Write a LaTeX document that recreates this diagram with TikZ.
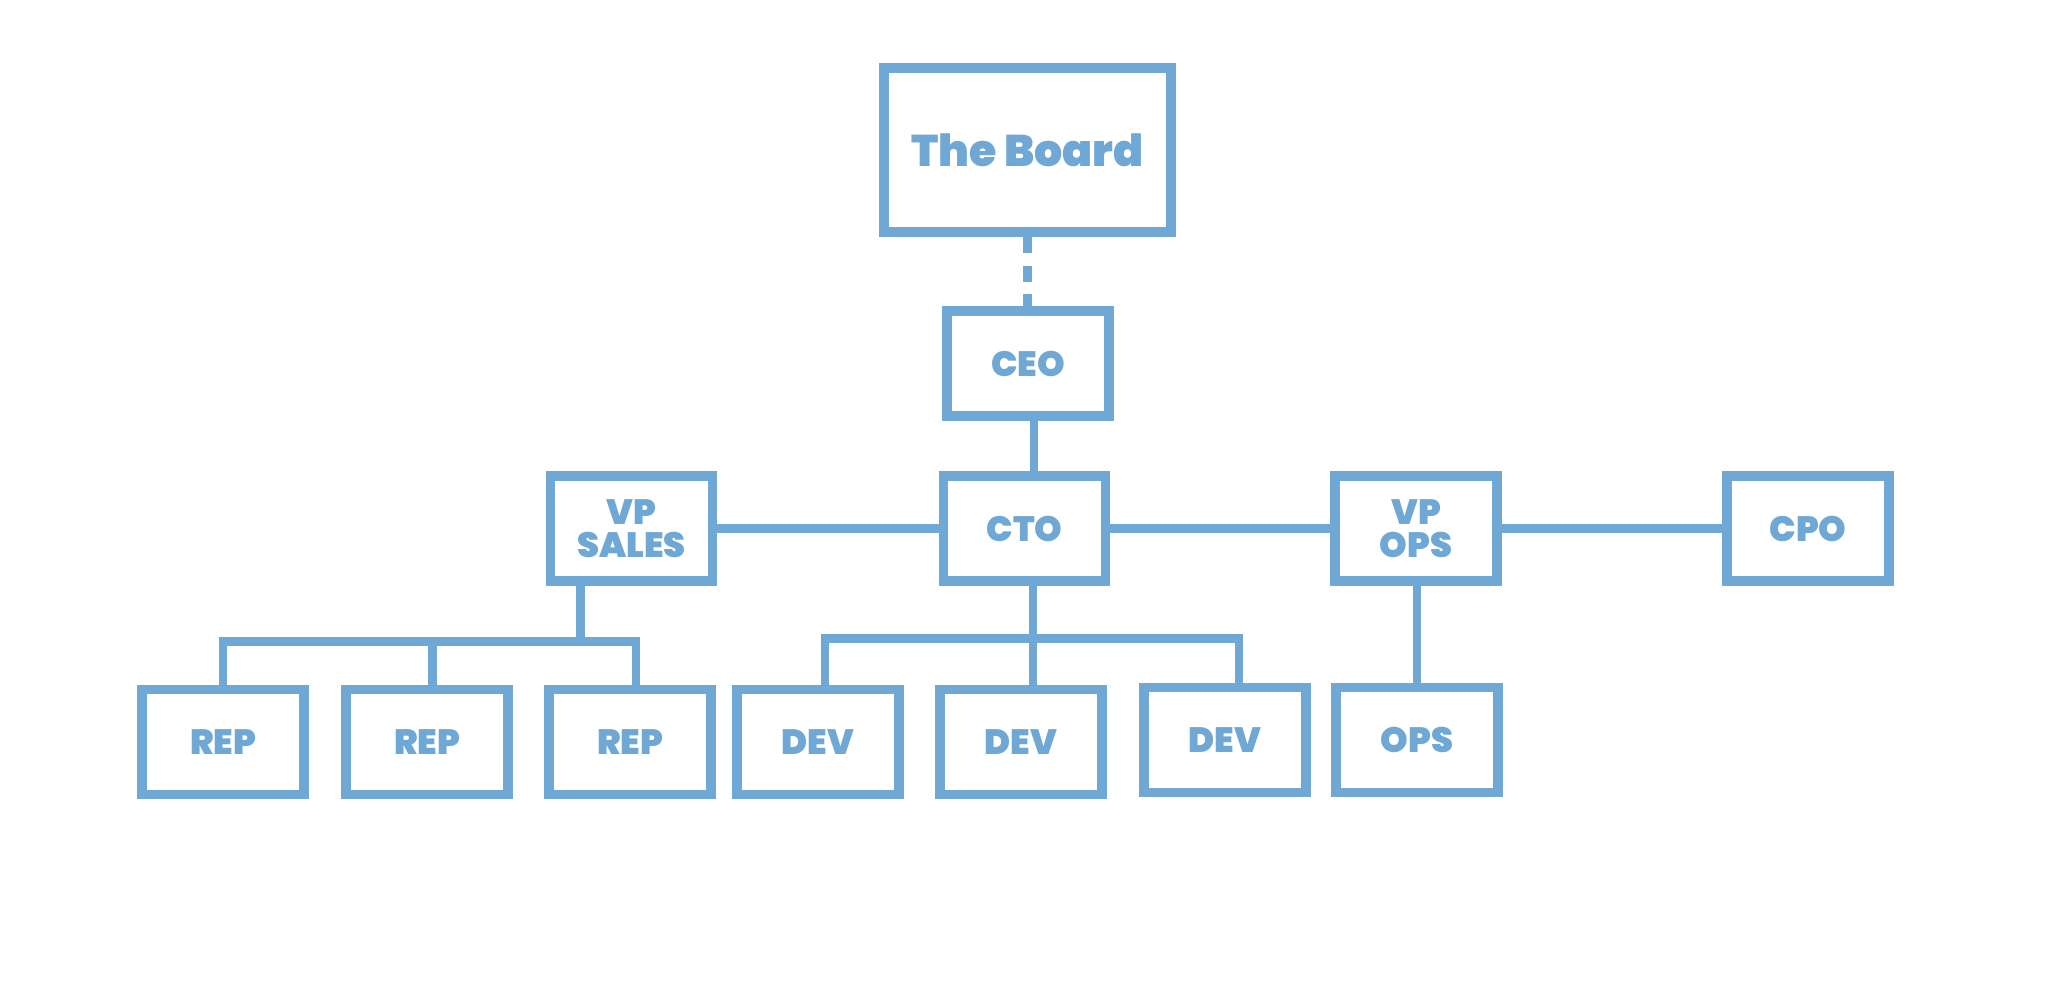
\documentclass[tikz,border=0pt]{standalone}
\usepackage{fontspec}
\setmainfont{Poppins}[BoldFont={Poppins Black}]
\definecolor{orgblue}{RGB}{111,167,213}
\tikzset{
  box/.style={draw=orgblue, line width=2.7pt, minimum width=1.62cm,
    minimum height=1.05cm, inner sep=0pt, text=orgblue, align=center,
    font=\fontsize{10}{9.2}\selectfont\bfseries},
  link/.style={draw=orgblue, line width=2.4pt},
}
\begin{document}
\begin{tikzpicture}
  \useasboundingbox (0,0) rectangle (20.56,-9.92);
  \draw (10.275,-1.50) node[box, minimum width=2.87cm, minimum height=1.64cm,
    font=\fontsize{12.6}{15}\selectfont\bfseries](board){The Board};
  \draw (10.28,-3.635) node[box](ceo){CEO};
  \draw
    (6.315,-5.285) node[box](vpsales){VP\\SALES}
    (10.245,-5.285) node[box](cto){CTO}
    (14.16,-5.285) node[box](vpops){VP\\OPS}
    (18.08,-5.285) node[box](cpo){CPO};
  \draw
    (2.23,-7.42) node[box](rep1){REP}
    (4.27,-7.42) node[box](rep2){REP}
    (6.30,-7.42) node[box](rep3){REP}
    (8.18,-7.42) node[box](dev1){DEV}
    (10.21,-7.42) node[box](dev2){DEV}
    (12.25,-7.40) node[box](dev3){DEV}
    (14.17,-7.40) node[box](ops){OPS};
  \coordinate (salesbar) at (5.807,-6.415);
  \coordinate (devbar) at (10.33,-6.385);
  % top of the tree
  \draw[link, dash pattern=on 4.6pt off 3.6pt] (board.south) -- (board.south |- ceo.north);
  \draw[link] ([xshift=0.6mm]ceo.south) -- ([xshift=0.6mm]ceo.south |- cto.north);
  \draw[link] (vpsales) -- (cto) (cto) -- (vpops) (vpops) -- (cpo);
  % branches
  \draw[link] (vpsales.south -| salesbar) -- (salesbar);
  \draw[link] (rep1.north) |- (salesbar) -| ([xshift=0.6mm]rep3.north);
  \draw[link] ([xshift=0.55mm]rep2.north) -- ([xshift=0.55mm]rep2.north |- salesbar);
  \draw[link] (cto.south -| devbar) -- (dev2.north -| devbar);
  \draw[link] ([xshift=0.7mm]dev1.north) |- (devbar) -| ([xshift=1.4mm]dev3.north);
  \draw[link] (vpops.south -| ops.north) -- (ops.north);
\end{tikzpicture}
\end{document}
